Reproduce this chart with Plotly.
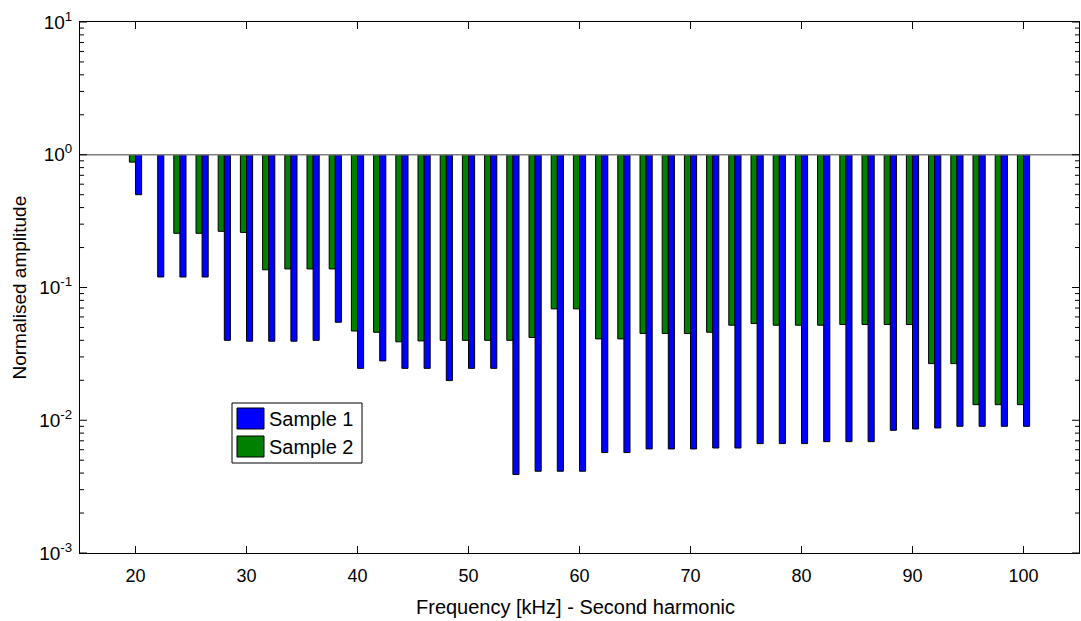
import plotly.graph_objects as go

# Harmonic frequencies (kHz)
freq = [20, 22, 24, 26, 28, 30, 32, 34, 36, 38, 40, 42, 44, 46, 48, 50, 52, 54, 56, 58,
        60, 62, 64, 66, 68, 70, 72, 74, 76, 78, 80, 82, 84, 86, 88, 90, 92, 94, 96, 98, 100]

# Normalised second-harmonic amplitude, Sample 1
sample1 = [0.50, 0.12, 0.12, 0.12, 0.040, 0.0394, 0.0394, 0.0394, 0.040, 0.0547,
           0.0246, 0.028, 0.0246, 0.0246, 0.0199, 0.0246, 0.0246, 0.0039, 0.00413, 0.00413,
           0.00413, 0.00571, 0.00571, 0.00608, 0.00608, 0.00608, 0.00618, 0.00618, 0.00667, 0.00667,
           0.00667, 0.0069, 0.0069, 0.0069, 0.0084, 0.0086, 0.00875, 0.0090, 0.0090, 0.0090, 0.0090]

# Normalised second-harmonic amplitude, Sample 2 (no value at 22 kHz)
sample2 = [0.88, None, 0.256, 0.256, 0.265, 0.26, 0.136, 0.138, 0.138, 0.138,
           0.047, 0.046, 0.039, 0.0396, 0.040, 0.040, 0.040, 0.040, 0.042, 0.069,
           0.069, 0.041, 0.041, 0.045, 0.045, 0.045, 0.046, 0.052, 0.0535, 0.052,
           0.052, 0.052, 0.0526, 0.0526, 0.0526, 0.0526, 0.0267, 0.0267, 0.0131, 0.0131, 0.0131]

series_names = ["Sample 1", "Sample 2"]
series_colors = ["#0000FF", "#008000"]

y_tickvals = [1e-3, 1e-2, 1e-1, 1e0, 1e1]
y_ticktext = ["10<sup>-3</sup>", "10<sup>-2</sup>", "10<sup>-1</sup>", "10<sup>0</sup>", "10<sup>1</sup>"]
x_tickvals = [20, 30, 40, 50, 60, 70, 80, 90, 100]

BASELINE = 1.0
BAR_W = 0.55
FONT = "Liberation Sans, Arial, sans-serif"

# minor log ticks: 2..9 within each decade
y_minor = [m * 10.0 ** k for k in range(-3, 1) for m in range(2, 10)]

# plot-area geometry in pixels
W, H = 1081, 621
L, R, T, B = 80, 2, 22, 68
PW, PH = W - L - R, H - T - B
MAJOR_LEN, MINOR_LEN = 7, 4


def px(xp):
    return (xp - L) / PW


def py(yp):
    return (H - B - yp) / PH


def drop(vals):
    # bars hang from the baseline at 1 down to the value
    return [None if v is None else v - BASELINE for v in vals]


fig = go.Figure()
fig.add_trace(go.Bar(
    x=freq, y=drop(sample2), base=BASELINE, width=BAR_W, offset=-BAR_W,
    marker=dict(color=series_colors[1], line=dict(color="black", width=1)),
    name=series_names[1], showlegend=False,
    customdata=sample2, hovertemplate="%{x} kHz: %{customdata}<extra>" + series_names[1] + "</extra>",
))
fig.add_trace(go.Bar(
    x=freq, y=drop(sample1), base=BASELINE, width=BAR_W, offset=0,
    marker=dict(color=series_colors[0], line=dict(color="black", width=1)),
    name=series_names[0], showlegend=False,
    customdata=sample1, hovertemplate="%{x} kHz: %{customdata}<extra>" + series_names[0] + "</extra>",
))

# baseline at 1
fig.add_shape(type="line", xref="paper", yref="y", x0=0, x1=1, y0=BASELINE, y1=BASELINE,
              line=dict(color="#7f7f7f", width=1.5), layer="above")

# inward tick marks on all four sides of the box
tick_line = dict(color="black", width=1)
for xv in x_tickvals:
    fig.add_shape(type="line", xref="x", yref="paper", x0=xv, x1=xv,
                  y0=0, y1=MAJOR_LEN / PH, line=tick_line, layer="above")
    fig.add_shape(type="line", xref="x", yref="paper", x0=xv, x1=xv,
                  y0=1, y1=1 - MAJOR_LEN / PH, line=tick_line, layer="above")
for yv, ln in [(v, MAJOR_LEN) for v in y_tickvals] + [(v, MINOR_LEN) for v in y_minor]:
    fig.add_shape(type="line", xref="paper", yref="y", x0=0, x1=ln / PW,
                  y0=yv, y1=yv, line=tick_line, layer="above")
    fig.add_shape(type="line", xref="paper", yref="y", x0=1, x1=1 - ln / PW,
                  y0=yv, y1=yv, line=tick_line, layer="above")

# legend box drawn as shapes + text
lx0, lx1, ly0, ly1 = 232, 362, 403, 463
fig.add_shape(type="rect", xref="paper", yref="paper",
              x0=px(lx0), x1=px(lx1), y0=py(ly1), y1=py(ly0),
              line=dict(color="black", width=1), fillcolor="white", layer="above")
for i, (name, col) in enumerate(zip(series_names, series_colors)):
    sy0 = 408 + i * 28
    fig.add_shape(type="rect", xref="paper", yref="paper",
                  x0=px(237), x1=px(264), y0=py(sy0 + 21), y1=py(sy0),
                  line=dict(color="black", width=1), fillcolor=col, layer="above")
    fig.add_annotation(xref="paper", yref="paper", x=px(267), y=py(sy0 + 11),
                       text=name, showarrow=False, xanchor="left", yanchor="middle",
                       font=dict(family=FONT, size=20, color="black"))

# axis titles
fig.add_annotation(xref="paper", yref="paper", x=px(575), y=py(607),
                   text="Frequency [kHz] - Second harmonic", showarrow=False,
                   xanchor="center", yanchor="middle",
                   font=dict(family=FONT, size=20, color="black"))
fig.add_annotation(xref="paper", yref="paper", x=px(19), y=0.5,
                   text="Normalised amplitude", showarrow=False, textangle=-90,
                   xanchor="center", yanchor="middle",
                   font=dict(family=FONT, size=19, color="black"))

fig.update_layout(
    width=W, height=H,
    margin=dict(l=L, r=R, t=T, b=B, autoexpand=False),
    paper_bgcolor="white", plot_bgcolor="white",
    barmode="overlay",
    showlegend=False,
    font=dict(family=FONT, size=18, color="black"),
    xaxis=dict(
        range=[15, 105], tickvals=x_tickvals, ticks="",
        showline=True, linecolor="black", linewidth=1,
        mirror=True, showgrid=False, zeroline=False, ticklabelstandoff=6,
        tickfont=dict(family=FONT, size=18),
    ),
    yaxis=dict(
        type="log", range=[-3, 1], tickvals=y_tickvals, ticktext=y_ticktext,
        ticks="", showline=True, linecolor="black", linewidth=1, mirror=True,
        showgrid=False, zeroline=False, ticklabelstandoff=3,
        tickfont=dict(family=FONT, size=19),
    ),
)

fig.write_html("out.html")
